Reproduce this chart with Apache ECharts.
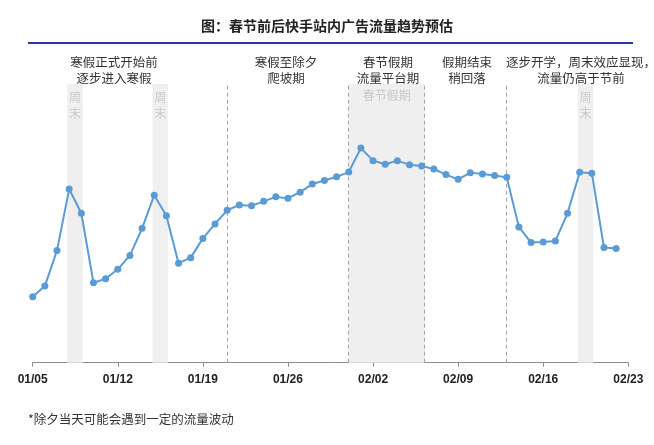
<!DOCTYPE html>
<html>
<head>
<meta charset="utf-8">
<script src="https://cdn.jsdelivr.net/npm/echarts@6/dist/echarts.min.js"></script>
<style>
html,body{margin:0;padding:0;background:#fff;}
#chart{width:654px;height:445px;}
</style>
</head>
<body>
<div id="chart"></div>
<script>
// Categories: daily dates (last one is the axis end label with no value)
const dates = ['01/05','01/06','01/07','01/08','01/09','01/10','01/11','01/12','01/13','01/14','01/15','01/16','01/17','01/18','01/19','01/20','01/21','01/22','01/23','01/24','01/25','01/26','01/27','01/28','01/29','01/30','01/31','02/01','02/02','02/03','02/04','02/05','02/06','02/07','02/08','02/09','02/10','02/11','02/12','02/13','02/14','02/15','02/16','02/17','02/18','02/19','02/20','02/21','02/22','02/23'];
// Estimated ad traffic index (relative units)
const traffic = [23.7,27.5,40.3,62.3,53.6,28.7,30.1,33.5,38.5,48.2,60.1,52.7,35.7,37.7,44.6,49.8,54.7,56.6,56.3,57.9,59.5,59.0,61.2,64.1,65.4,66.7,68.4,77.0,72.5,71.2,72.5,71.0,70.6,69.5,67.5,65.8,68.2,67.7,67.2,66.5,48.7,43.1,43.3,43.7,53.6,68.3,68.0,41.3,41.0];
// Shaded periods
const weekendBands = [['01/08','01/09'],['01/15','01/16'],['02/19','02/20']];
const holidayBand = ['01/31','02/06'];
const phaseDividers = ['01/21','01/31','02/06','02/13'];
// Phase annotations [text, centerX]
const phaseNotes = [
  ['寒假正式开始前\n逐步进入寒假', 114],
  ['寒假至除夕\n爬坡期', 286],
  ['春节假期\n流量平台期', 388],
  ['假期结束\n稍回落', 467],
  ['逐步开学，周末效应显现，\n流量仍高于节前', 581]
];
const titleText = '图：春节前后快手站内广告流量趋势预估';
const footnote = '*除夕当天可能会遇到一定的流量波动';

const FONT = '"Noto Sans CJK SC", "Liberation Sans", sans-serif';
const chart = echarts.init(document.getElementById('chart'));
const idx = d => dates.indexOf(d);

// band edges sit slightly outside the day points, as in the source
const markAreaData = weekendBands.map(b => [
  {xAxis: idx(b[0]) - 0.15, label: {show: true, formatter: '周\n末', position: 'insideTop', distance: 5, color: '#c9c9c9', fontSize: 12, lineHeight: 16, fontFamily: FONT}},
  {xAxis: idx(b[1]) + 0.12}
]);
const holidayEnd = idx(holidayBand[1]) + 0.25;
markAreaData.push([
  {xAxis: idx(holidayBand[0]), label: {show: true, formatter: '春节假期', position: 'insideTop', distance: 5, color: '#c9c9c9', fontSize: 12, fontFamily: FONT}},
  {xAxis: holidayEnd}
]);
const dividerPos = phaseDividers.map(d => d === holidayBand[1] ? holidayEnd : idx(d));

const graphics = [
  {type: 'text', left: 'center', top: 19, style: {text: titleText, font: 'bold 14px ' + FONT, fill: '#222'}},
  {type: 'rect', shape: {x: 28, y: 42, width: 605, height: 2}, style: {fill: '#2b3a98'}}
];
phaseNotes.forEach(n => {
  graphics.push({type: 'text', x: n[1], y: 54, style: {text: n[0], font: '12.5px ' + FONT, fill: '#333', textAlign: 'center', lineHeight: 16}});
});
graphics.push({type: 'text', x: 28, y: 413, style: {text: footnote, font: '12.5px ' + FONT, fill: '#333'}});

chart.setOption({
  backgroundColor: '#ffffff',
  animation: false,
  graphic: graphics,
  grid: {left: 32.7, right: 25.7, top: 84, bottom: 82.3},
  xAxis: {
    type: 'value',
    min: 0, max: dates.length - 1, interval: 7,
    axisLine: {show: true, lineStyle: {color: '#8c8c8c', width: 1}},
    axisTick: {show: true, length: 4, lineStyle: {color: '#8c8c8c'}},
    axisLabel: {margin: 11, color: '#222', fontWeight: 'bold', fontSize: 12, fontFamily: '"Liberation Sans", Arial, sans-serif',
      formatter: v => dates[v] || ''},
    splitLine: {show: false}
  },
  yAxis: {
    type: 'value', min: 0, max: 100,
    show: false,
    splitLine: {show: false}
  },
  series: [{
    type: 'line',
    data: traffic.map((v, i) => [i, v]),
    symbol: 'circle',
    symbolSize: 7,
    lineStyle: {color: '#5b9bd5', width: 2},
    itemStyle: {color: '#5b9bd5'},
    z: 5,
    markArea: {
      silent: true,
      itemStyle: {color: '#efefef'},
      data: markAreaData
    },
    markLine: {
      silent: true,
      symbol: 'none',
      label: {show: false},
      lineStyle: {color: '#a6a6a6', type: [4, 3], width: 1},
      data: dividerPos.map(p => ({xAxis: p}))
    }
  }]
});
</script>
</body>
</html>
